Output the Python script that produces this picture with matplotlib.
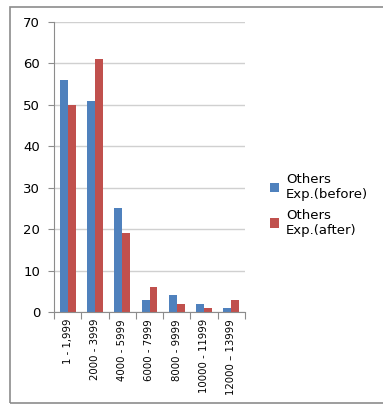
import matplotlib.pyplot as plt
import numpy as np
from matplotlib.patches import Rectangle

categories = ['1 - 1,999', '2000 - 3999', '4000 - 5999', '6000 - 7999',
              '8000 - 9999', '10000 - 11999', '12000 \u2013 13999']
before = [56, 51, 25, 3, 4, 2, 1]
after = [50, 61, 19, 6, 2, 1, 3]

fig = plt.figure(figsize=(3.83, 4.04), dpi=100)

# outer chart border (right edge runs off the image)
fig.patches.append(Rectangle((10 / 383, 1 / 404), 1.1, 396 / 404, transform=fig.transFigure,
                             fill=False, edgecolor='#8c8c8c', linewidth=1.2))

ax = fig.add_axes([54 / 383, 92 / 404, 191 / 383, 290 / 404])
x = np.arange(len(categories))
w = 0.29
ax.bar(x - w / 2, before, w, color='#4F81BD', label='Others\nExp.(before)')
ax.bar(x + w / 2, after, w, color='#C0504D', label='Others\nExp.(after)')

ax.set_xlim(-0.5, len(categories) - 0.5)
ax.set_ylim(0, 70)
ax.set_yticks(range(0, 71, 10))
ax.yaxis.grid(True, color='#d0d0d0', linewidth=1)
ax.set_axisbelow(True)
for s in ['top', 'right']:
    ax.spines[s].set_visible(False)
ax.spines['left'].set_color('#8c8c8c')
ax.spines['bottom'].set_color('#8c8c8c')
ax.tick_params(axis='y', length=4, color='#8c8c8c', labelsize=9.5, pad=6)

ax.set_xticks(np.arange(-0.5, len(categories), 1), minor=False)
ax.set_xticklabels([])
ax.set_xticks(x, minor=True)
ax.set_xticklabels(categories, minor=True, rotation=90, fontsize=7.3)
ax.tick_params(axis='x', which='major', length=5, color='#8c8c8c')
ax.tick_params(axis='x', which='minor', length=0, pad=5)

ax.legend(loc='center left', bbox_to_anchor=(1.07, 0.37), frameon=False,
          fontsize=9.5, handlelength=0.7, handleheight=0.7, handletextpad=0.5,
          labelspacing=0.6)

fig.savefig('out.png', dpi=100)
